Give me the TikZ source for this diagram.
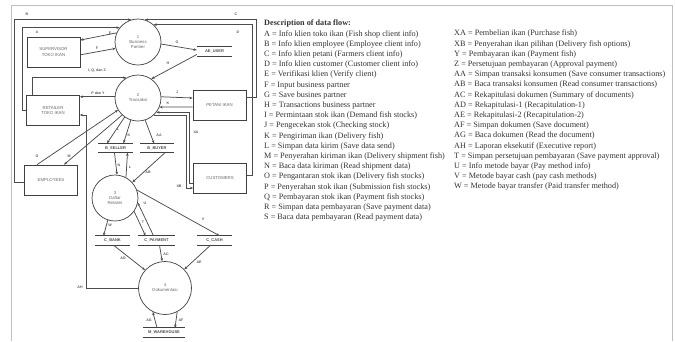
\documentclass[tikz,border=0pt]{standalone}
\usepackage{fontspec}
\setmainfont{Liberation Sans}
\newfontfamily\legfont{Liberation Serif}
\usetikzlibrary{arrows.meta}

\begin{document}
\begin{tikzpicture}[x=1pt,y=-1pt,
		proc/.style={circle,draw=black!75,line width=0.7pt,minimum size=46pt,inner sep=0pt,align=center,text=black!60,font=\fontsize{4.3}{5}\selectfont},
		ent/.style={draw=black!75,line width=0.7pt,minimum width=53pt,minimum height=30pt,inner sep=0pt,align=center,text=black!60,font=\fontsize{4.3}{5.3}\selectfont},
		storeline/.style={draw=black!75,line width=0.9pt},
		store/.style={minimum height=9pt,inner sep=0pt,text=black!70,font=\bfseries\fontsize{4}{4}\selectfont,
			append after command={(\tikzlastnode.north west) edge[storeline] (\tikzlastnode.north east)
				(\tikzlastnode.south west) edge[storeline] (\tikzlastnode.south east)}},
		flow/.style={draw=black!70,line width=0.75pt,-{Stealth[length=3.2pt,width=2.6pt]}},
		lbl/.style={text=black!65,inner sep=0pt,font=\bfseries\fontsize{3.6}{4}\selectfont},
		legend/.style={anchor=north west,inner sep=0pt,align=left,text=black!80,font=\legfont\fontsize{8.2}{10.2}\selectfont}]
		\useasboundingbox (0,0) rectangle (675,341);
		\draw[black!25] (11,341) -- (11,5) -- (672,5) -- (672,341);
		% processes
		\node[proc] (p1) at (138,42) {1\\Business\\Partner};
		\node[proc] (p2) at (138,98) {2\\Transaksi};
		\node[proc] (p3) at (115,198) {3\\Daftar\\Retailer};
		\node[proc,minimum size=53pt] (p4) at (165,288) {4\\Dokumentasi};
		% entities
		\node[ent] (sup) at (53.5,52) {SUPERVISOR\\TOKO IKAN};
		\node[ent] (ret) at (53,110.5) {RETAILER\\TOKO IKAN};
		\node[ent] (pet) at (219.5,105) {PETANI IKAN};
		\node[ent] (cus) at (220,178) {CUSTOMERS};
		\node[ent] (emp) at (51,180) {EMPLOYEES};
		% data stores
		\node[store,minimum width=35pt] (ae) at (214.5,51.5) {AE\_USER};
		\node[store,minimum width=35pt] (bs) at (115.5,148) {B\_SELLER};
		\node[store,minimum width=34pt] (bb) at (157,148) {B\_BUYER};
		\node[store,minimum width=35pt] (cb) at (112.5,240.5) {C\_BANK};
		\node[store,minimum width=37pt] (cp) at (156.5,240.5) {C\_PAYMENT};
		\node[store,minimum width=35pt] (cc) at (214.5,240.5) {C\_CASH};
		\node[store,minimum width=42pt] (mw) at (164,332.5) {M\_WAREHOUSE};
		% flows
		\draw[flow] (ret.west) -- ++(-4,0) |- (p1.142);
		\draw[flow] ([yshift=-2pt]emp.west) -- ++(-10,0) |- (p1.107);
		\draw[flow] ([yshift=8pt]pet.east) -- ++(10,0) |- (p1.73);
		\draw[flow] ([yshift=3pt]cus.east) -- ++(6,0) |- (p1.48);
		\draw[flow] (p1.157) -- (sup.24);
		\draw[flow] (sup.354) -- (p1.196);
		\draw[flow] (p1.355) -- ([yshift=1.5pt]ae.west);
		\draw[flow] ([yshift=-3pt]ae.west) -- (p2.55);
		\draw[flow] ([xshift=-21pt]ret.north) |- (p2.120);
		\draw[flow] (p2.177) -- (ret.east |- p2.177);
		\draw[flow] (p2.3) -- ([yshift=7pt]pet.west);
		\draw[flow] ([yshift=-2pt]pet.west) -- (p2.337);
		\draw[flow] ([yshift=-5pt]cus.west) -- ++(-4,0) |- (p2.322);
		\draw[flow] (p2.312) -| ([xshift=-7pt,yshift=-10pt]cus.west) -- ([yshift=-10pt]cus.west);
		\draw[flow] ([xshift=-14pt]emp.north) -- (p2.211);
		\draw[flow] (p2.227) -- ([xshift=13pt]emp.north);
		\draw[flow] (p2.235) -- ([xshift=-8.5pt]bs.north);
		\draw[flow] (p2.252) -- ([xshift=8pt]bs.north);
		\draw[flow] (p2.288) -- ([xshift=-3pt]bb.north);
		\draw[flow] ([xshift=-1pt]bs.south) -- (p3.85);
		\draw[flow] (p3.62) -- ([xshift=12pt]bs.south);
		\draw[flow] ([xshift=8pt]bb.south) -- (p3.42);
		\draw[flow] (p3.252) -- ([xshift=-9pt]cb.north);
		\draw[flow] (p3.325) -- ([xshift=-11pt]cp.north);
		\draw[flow] ([xshift=-3pt]cp.north) -- (p3.348);
		\draw[flow] (p3.20) -- ([xshift=5pt]cc.north);
		\draw[flow] ([xshift=1pt]cb.south) -- (p4.138);
		\draw[flow] ([xshift=3pt]cp.south) -- (p4.96);
		\draw[flow] ([xshift=-4pt]cc.south) -- (p4.44);
		\draw[flow] (p4.west) -- ++(-52,0) |- ([yshift=-4.5pt]ret.east);
		\draw[flow] ([xshift=-7pt]mw.north) -- (p4.243);
		\draw[flow] (p4.297) -- ([xshift=11pt]mw.north);
		% flow labels
		\node[lbl] (lA) at (37,32) {A};
		\node[lbl] (lB) at (27,14) {B};
		\node[lbl] (lC) at (236,14) {C};
		\node[lbl] (lD) at (238,32) {D};
		\node[lbl] (lE) at (110,33) {E};
		\node[lbl] (lF) at (97,48) {F};
		\node[lbl] (lG) at (177,42) {G};
		\node[lbl] (lH) at (168,63) {H};
		\node[lbl] (lIQZ) at (97,71) {I, Q, dan Z};
		\node[lbl] (lPY) at (98,93) {P dan Y};
		\node[lbl] (lJ) at (177,92) {J};
		\node[lbl] (lK) at (168,103) {K};
		\node[lbl] (lXA) at (196,132) {XA};
		\node[lbl] (lXB) at (179,186) {XB};
		\node[lbl] (lO) at (37,156) {O};
		\node[lbl] (lM) at (69,156) {M};
		\node[lbl] (lL) at (118,129) {L};
		\node[lbl] (lK2) at (129,135) {K};
		\node[lbl] (lAA) at (159,135) {AA};
		\node[lbl] (lN) at (119,165) {N};
		\node[lbl] (lL2) at (130,167) {L};
		\node[lbl] (lAB) at (148,172) {AB};
		\node[lbl] (lW) at (110,225) {W};
		\node[lbl] (lT) at (143,222) {T};
		\node[lbl] (lU) at (145,203) {U};
		\node[lbl] (lV) at (203,219) {V};
		\node[lbl] (lAD) at (123,258) {AD};
		\node[lbl] (lAC) at (166,254) {AC};
		\node[lbl] (lAE) at (199,262) {AE};
		\node[lbl] (lAH) at (80,287) {AH};
		\node[lbl] (lAG) at (149,320) {AG};
		\node[lbl] (lAF) at (181,320) {AF};
		% description
		\node[legend] (leg1) at (264,20) {\textbf{Description of data flow:}\\
			A = Info klien toko ikan (Fish shop client info)\\
			B = Info klien employee (Employee client info)\\
			C = Info klien petani (Farmers client info)\\
			D = Info klien customer (Customer client info)\\
			E = Verifikasi klien (Verify client)\\
			F = Input business partner\\
			G = Save busines partner\\
			H = Transactions business partner\\
			I = Permintaan stok ikan (Demand fish stocks)\\
			J = Pengecekan stok (Checking stock)\\
			K = Pengiriman ikan (Delivery fish)\\
			L = Simpan data kirim (Save data send)\\
			M = Penyerahan kiriman ikan (Delivery shipment fish)\\
			N = Baca data kiriman (Read shipment data)\\
			O = Pengantaran stok ikan (Delivery fish stocks)\\
			P = Penyerahan stok ikan (Submission fish stocks)\\
			Q = Pembayaran stok ikan (Payment fish stocks)\\
			R = Simpan data pembayaran (Save payment data)\\
			S = Baca data pembayaran (Read payment data)};
		\node[legend] (leg2) at (454,30) {XA = Pembelian ikan (Purchase fish)\\
			XB = Penyerahan ikan pilihan (Delivery fish options)\\
			Y = Pembayaran ikan (Payment fish)\\
			Z = Persetujuan pembayaran (Approval payment)\\
			AA = Simpan transaksi konsumen (Save consumer transactions)\\
			AB = Baca transaksi konsumen (Read consumer transactions)\\
			AC = Rekapitulasi dokumen (Summary of documents)\\
			AD = Rekapitulasi-1 (Recapitulation-1)\\
			AE = Rekapitulasi-2 (Recapitulation-2)\\
			AF = Simpan dokumen (Save document)\\
			AG = Baca dokumen (Read the document)\\
			AH = Laporan eksekutif (Executive report)\\
			T = Simpan persetujuan pembayaran (Save payment approval)\\
			U = Info metode bayar (Pay method info)\\
			V = Metode bayar cash (pay cash methods)\\
			W = Metode bayar transfer (Paid transfer method)};
	\end{tikzpicture}
\end{document}
